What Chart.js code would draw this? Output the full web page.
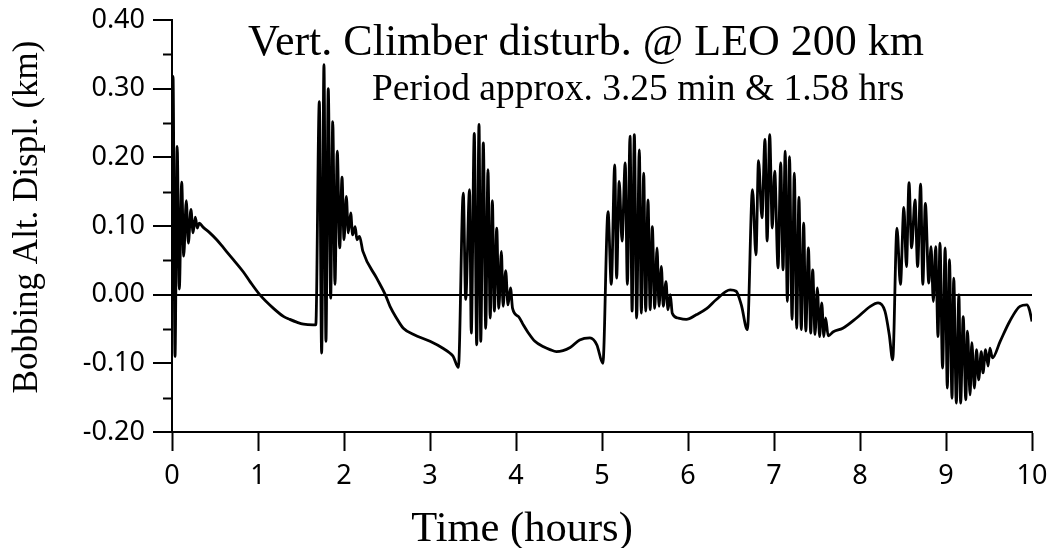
<!DOCTYPE html>
<html>
<head>
<meta charset="utf-8">
<title>Vert. Climber disturb. @ LEO 200 km</title>
<script src="https://cdn.jsdelivr.net/npm/chart.js@4.4.1/dist/chart.umd.min.js"></script>
<style>
  html, body { margin: 0; padding: 0; background: #fff; }
  canvas { display: block; }
</style>
</head>
<body>
<canvas id="chart" width="1051" height="548"></canvas>
<script>
// Bobbing altitude displacement (km) vs time (hours),
// one pair of arrays per climber disturbance cycle
const cycle1Hours = [0, 0.012, 0.035, 0.06, 0.085, 0.113, 0.136, 0.166, 0.19, 0.22, 0.245, 0.271, 0.294, 0.317, 0.364, 0.44, 0.52, 0.6, 0.713, 0.83, 0.907, 1.02, 1.18, 1.3, 1.37, 1.45, 1.53, 1.64, 1.672];
const cycle1Km = [0, 0.318, -0.09, 0.216, 0.008, 0.164, 0.056, 0.137, 0.075, 0.124, 0.09, 0.113, 0.097, 0.104, 0.098, 0.09, 0.08, 0.068, 0.051, 0.033, 0.019, 0, -0.02, -0.032, -0.036, -0.04, -0.043, -0.044, -0.044];

const cycle2Hours = [1.713, 1.74, 1.767, 1.79, 1.817, 1.845, 1.869, 1.895, 1.922, 1.95, 1.977, 2.0, 2.027, 2.05, 2.078, 2.1, 2.13, 2.15, 2.18, 2.22, 2.38, 2.48, 2.535, 2.61, 2.69, 2.81, 3.0, 3.15, 3.23, 3.27, 3.33];
const cycle2Km = [0.281, -0.085, 0.335, -0.068, 0.3, -0.005, 0.252, 0.015, 0.209, 0.068, 0.171, 0.08, 0.143, 0.09, 0.119, 0.087, 0.099, 0.08, 0.085, 0.063, 0.024, 0, -0.017, -0.034, -0.049, -0.058, -0.068, -0.078, -0.085, -0.09, -0.106];

const cycle3Hours = [3.387, 3.415, 3.46, 3.48, 3.515, 3.543, 3.57, 3.59, 3.62, 3.648, 3.674, 3.7, 3.725, 3.748, 3.776, 3.8, 3.83, 3.85, 3.88, 3.907, 3.936, 3.96, 4.03, 4.085, 4.14, 4.22, 4.32, 4.395, 4.47, 4.63, 4.74, 4.86, 4.94, 5.01];
const cycle3Km = [0.148, -0.007, 0.153, -0.056, 0.235, -0.073, 0.248, -0.068, 0.221, -0.049, 0.182, -0.034, 0.137, -0.024, 0.097, -0.02, 0.063, -0.017, 0.035, -0.015, 0.01, -0.02, -0.032, -0.044, -0.055, -0.068, -0.076, -0.08, -0.083, -0.077, -0.066, -0.063, -0.073, -0.1];

const cycle4Hours = [5.07, 5.108, 5.148, 5.17, 5.2, 5.233, 5.27, 5.295, 5.326, 5.35, 5.376, 5.403, 5.434, 5.457, 5.485, 5.508, 5.535, 5.56, 5.585, 5.613, 5.64, 5.663, 5.69, 5.713, 5.744, 5.767, 5.794, 5.817, 5.884, 5.98, 6.1, 6.22, 6.33, 6.49, 6.56, 6.62, 6.69];
const cycle4Km = [0.121, 0.015, 0.189, 0.024, 0.165, 0.078, 0.192, 0.015, 0.231, -0.024, 0.233, -0.034, 0.211, -0.027, 0.177, -0.024, 0.138, -0.022, 0.099, -0.02, 0.068, -0.017, 0.041, -0.017, 0.019, -0.022, 0, -0.027, -0.034, -0.036, -0.029, -0.02, -0.007, 0.007, 0.005, -0.015, -0.051];

const cycle5Hours = [6.75, 6.79, 6.82, 6.86, 6.895, 6.92, 6.95, 6.98, 7.008, 7.047, 7.078, 7.105, 7.13, 7.155, 7.18, 7.21, 7.236, 7.264, 7.29, 7.317, 7.345, 7.37, 7.4, 7.427, 7.45, 7.477, 7.504, 7.53, 7.555, 7.58, 7.6, 7.63, 7.69, 7.8, 7.96, 8.12, 8.21, 8.29, 8.34, 8.38];
const cycle5Km = [0.153, 0.058, 0.195, 0.112, 0.226, 0.078, 0.233, 0.097, 0.18, 0.039, 0.192, 0.036, 0.209, -0.01, 0.201, -0.036, 0.177, -0.049, 0.142, -0.051, 0.104, -0.053, 0.068, -0.056, 0.036, -0.058, 0.01, -0.061, -0.012, -0.061, -0.034, -0.06, -0.054, -0.049, -0.034, -0.017, -0.012, -0.024, -0.058, -0.095];

const cycle6Hours = [8.43, 8.47, 8.51, 8.54, 8.57, 8.6, 8.64, 8.67, 8.705, 8.73, 8.76, 8.8, 8.826, 8.853, 8.88, 8.907, 8.93, 8.96, 8.99, 9.015, 9.04, 9.07, 9.09, 9.12, 9.15, 9.17, 9.2, 9.23, 9.25, 9.28, 9.3, 9.33, 9.355, 9.38, 9.41, 9.43, 9.46, 9.49, 9.51, 9.54, 9.63, 9.74, 9.86, 9.94, 9.97, 10];
const cycle6Km = [0.097, 0.015, 0.127, 0.041, 0.163, 0.068, 0.138, 0.041, 0.161, 0.015, 0.133, 0.017, 0.07, -0.01, 0.07, -0.061, 0.075, -0.107, 0.068, -0.136, 0.051, -0.151, 0.024, -0.158, 0, -0.158, -0.032, -0.153, -0.053, -0.146, -0.07, -0.136, -0.08, -0.124, -0.083, -0.114, -0.08, -0.104, -0.078, -0.092, -0.068, -0.039, -0.017, -0.015, -0.022, -0.039];

const xTicks = [0, 1, 2, 3, 4, 5, 6, 7, 8, 9, 10];
const xTickLabels = ['0', '1', '2', '3', '4', '5', '6', '7', '8', '9', '10'];
const yTicks = [-0.2, -0.1, 0, 0.1, 0.2, 0.3, 0.4];
const yTickLabels = ['-0.20', '-0.10', '0.00', '0.10', '0.20', '0.30', '0.40'];
const yMinorTicks = [-0.15, -0.05, 0.05, 0.15, 0.25, 0.35];

const titleText = 'Vert. Climber disturb. @ LEO 200 km';
const subtitleText = 'Period approx. 3.25 min & 1.58 hrs';
const xTitle = 'Time (hours)';
const yTitle = 'Bobbing Alt. Displ. (km)';

const timeHours = [].concat(cycle1Hours, cycle2Hours, cycle3Hours, cycle4Hours, cycle5Hours, cycle6Hours);
const displKm = [].concat(cycle1Km, cycle2Km, cycle3Km, cycle4Km, cycle5Km, cycle6Km);
const points = timeHours.map((t, i) => ({ x: t, y: displKm[i] }));

const serif = '"Liberation Serif", "Times New Roman", serif';
const sans = '"Noto Sans", "DejaVu Sans", sans-serif';

// keep the plot box where the layout padding puts it
function noScalePadding(s) {
    s.paddingLeft = 0;
    s.paddingRight = 0;
    s.paddingTop = 0;
    s.paddingBottom = 0;
}

// titles, axis titles and the short minor ticks on the y axis
const captions = {
    id: 'captions',
    afterDraw(chart) {
        const ctx = chart.ctx;
        const yScale = chart.scales.y;
        ctx.save();
        ctx.fillStyle = '#000';
        ctx.textBaseline = 'alphabetic';

        ctx.font = '44px ' + serif;
        ctx.textAlign = 'left';
        ctx.fillText(titleText, 248, 55);

        ctx.font = '37.5px ' + serif;
        ctx.fillText(subtitleText, 372, 100);

        ctx.font = '42.5px ' + serif;
        ctx.textAlign = 'center';
        ctx.fillText(xTitle, 522, 541);

        ctx.font = '35px ' + serif;
        ctx.translate(37, 217);
        ctx.rotate(-Math.PI / 2);
        ctx.fillText(yTitle, 0, 0);
        ctx.restore();

        ctx.save();
        ctx.strokeStyle = '#000';
        ctx.lineWidth = 2;
        yMinorTicks.forEach(v => {
            const py = Math.round(yScale.getPixelForValue(v)) + 0.5;
            ctx.beginPath();
            ctx.moveTo(yScale.right - 9, py);
            ctx.lineTo(yScale.right, py);
            ctx.stroke();
        });
        ctx.restore();
    }
};

new Chart(document.getElementById('chart').getContext('2d'), {
    type: 'line',
    data: {
        datasets: [{
            data: points,
            borderColor: '#000',
            borderWidth: 2.8,
            pointRadius: 0,
            cubicInterpolationMode: 'monotone',
            fill: false
        }]
    },
    options: {
        responsive: false,
        animation: false,
        layout: {
            padding: { top: 20, right: 19, bottom: 0, left: 0 }
        },
        plugins: {
            legend: { display: false },
            tooltip: { enabled: false },
            title: { display: false }
        },
        scales: {
            x: {
                type: 'linear',
                min: 0,
                max: 10,
                afterFit: s => { s.height = 116; noScalePadding(s); },
                afterBuildTicks: s => { s.ticks = xTicks.map(v => ({ value: v })); },
                ticks: {
                    callback: (v, i) => xTickLabels[i],
                    autoSkip: false,
                    maxRotation: 0,
                    padding: 9,
                    color: '#000',
                    font: { family: sans, size: 27 }
                },
                grid: {
                    drawOnChartArea: false,
                    tickLength: 19,
                    tickColor: '#000',
                    tickWidth: 2
                },
                border: { color: '#000', width: 2 }
            },
            y: {
                min: -0.2,
                max: 0.4,
                afterFit: s => { s.width = 172; noScalePadding(s); },
                afterBuildTicks: s => { s.ticks = yTicks.map(v => ({ value: v })); },
                ticks: {
                    callback: (v, i) => yTickLabels[i],
                    padding: 8,
                    color: '#000',
                    font: { family: sans, size: 27 }
                },
                grid: {
                    color: c => (c.tick && c.tick.value === 0 ? '#000' : 'rgba(0,0,0,0)'),
                    lineWidth: 2,
                    tickLength: 19,
                    tickColor: '#000',
                    tickWidth: 2
                },
                border: { color: '#000', width: 2 }
            }
        }
    },
    plugins: [captions]
});
</script>
</body>
</html>
